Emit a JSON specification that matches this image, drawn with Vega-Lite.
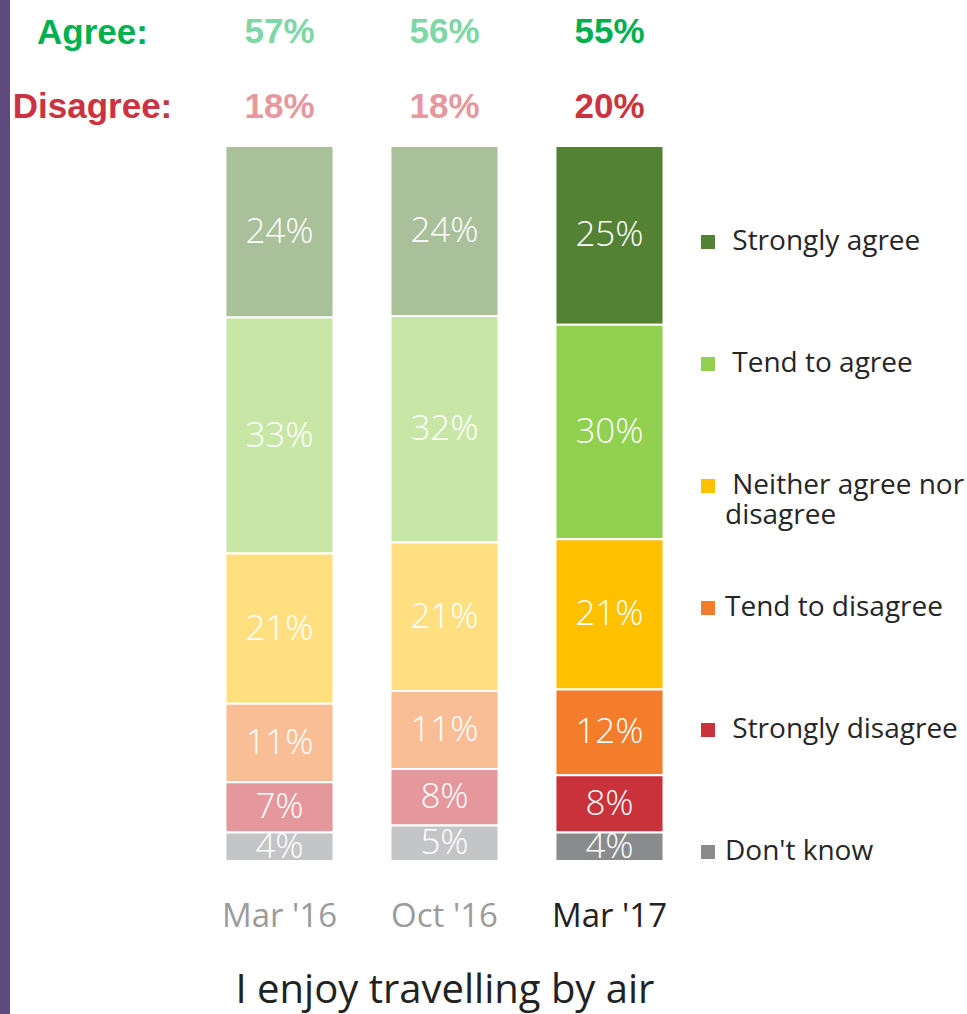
{
  "$schema": "https://vega.github.io/schema/vega-lite/v6.json",
  "padding": 0,
  "background": "white",
  "config": {"view": {"stroke": null}, "font": "Open Sans"},
  "datasets": {
    "survey": [
      {"period": "Mar '16", "answer": "Strongly agree", "code": 5, "share": 0.24},
      {"period": "Mar '16", "answer": "Tend to agree", "code": 4, "share": 0.33},
      {"period": "Mar '16", "answer": "Neither agree nor disagree", "code": 3, "share": 0.21},
      {"period": "Mar '16", "answer": "Tend to disagree", "code": 2, "share": 0.11},
      {"period": "Mar '16", "answer": "Strongly disagree", "code": 1, "share": 0.07},
      {"period": "Mar '16", "answer": "Don't know", "code": 0, "share": 0.04},
      {"period": "Oct '16", "answer": "Strongly agree", "code": 5, "share": 0.24},
      {"period": "Oct '16", "answer": "Tend to agree", "code": 4, "share": 0.32},
      {"period": "Oct '16", "answer": "Neither agree nor disagree", "code": 3, "share": 0.21},
      {"period": "Oct '16", "answer": "Tend to disagree", "code": 2, "share": 0.11},
      {"period": "Oct '16", "answer": "Strongly disagree", "code": 1, "share": 0.08},
      {"period": "Oct '16", "answer": "Don't know", "code": 0, "share": 0.05},
      {"period": "Mar '17", "answer": "Strongly agree", "code": 5, "share": 0.25},
      {"period": "Mar '17", "answer": "Tend to agree", "code": 4, "share": 0.30},
      {"period": "Mar '17", "answer": "Neither agree nor disagree", "code": 3, "share": 0.21},
      {"period": "Mar '17", "answer": "Tend to disagree", "code": 2, "share": 0.12},
      {"period": "Mar '17", "answer": "Strongly disagree", "code": 1, "share": 0.08},
      {"period": "Mar '17", "answer": "Don't know", "code": 0, "share": 0.04}
    ],
    "summary": [
      {"period": "Mar '16", "measure": "Agree", "share": 0.57},
      {"period": "Oct '16", "measure": "Agree", "share": 0.56},
      {"period": "Mar '17", "measure": "Agree", "share": 0.55},
      {"period": "Mar '16", "measure": "Disagree", "share": 0.18},
      {"period": "Oct '16", "measure": "Disagree", "share": 0.18},
      {"period": "Mar '17", "measure": "Disagree", "share": 0.20}
    ],
    "edge": [{"side": "left"}]
  },
  "spacing": 2,
  "hconcat": [
    {
      "width": 10,
      "height": 1014,
      "view": {"fill": "#5f4b7b", "stroke": null},
      "data": {"name": "edge"},
      "mark": {"type": "rect", "color": "#5f4b7b"},
      "encoding": {}
    },
    {
      "spacing": 6,
      "vconcat": [
        {
          "width": 495,
          "height": 139,
          "data": {"name": "summary"},
          "mark": {"type": "text", "font": "Liberation Sans", "fontSize": 35, "fontWeight": "bold"},
          "encoding": {
            "x": {"field": "period", "type": "nominal", "sort": ["Mar '16", "Oct '16", "Mar '17"], "scale": {"type": "point", "padding": 0.5}, "axis": null},
            "y": {
              "field": "measure", "type": "nominal", "sort": ["Agree", "Disagree"],
              "scale": {"type": "point", "padding": 0.4267},
              "axis": {
                "title": null, "domain": false, "ticks": false, "tickSize": 0,
                "labelExpr": "datum.label + ':'",
                "labelFont": "Liberation Sans", "labelFontSize": 35, "labelFontWeight": "bold",
                "labelAlign": "center", "labelPadding": 105,
                "labelColor": {"condition": {"test": "datum.value == 'Agree'", "value": "#00b050"}, "value": "#cc3340"}
              }
            },
            "text": {"field": "share", "type": "quantitative", "format": ".0%"},
            "color": {"condition": {"test": "datum.measure == 'Agree'", "value": "#00b050"}, "value": "#cc3340"},
            "opacity": {"condition": {"test": "indexof(datum.period, '17') >= 0", "value": 1}, "value": 0.5}
          }
        },
        {
          "width": 495,
          "height": 715,
          "data": {"name": "survey"},
          "encoding": {
            "x": {
              "field": "period", "type": "nominal", "sort": ["Mar '16", "Oct '16", "Mar '17"],
              "scale": {"type": "band", "paddingInner": 0.345, "paddingOuter": 0.1725},
              "axis": {
                "title": "I enjoy travelling by air", "titleFontSize": 40, "titleFontWeight": "normal", "titleColor": "#222222", "titleFont": "Open Sans", "titlePadding": 37,
                "domain": false, "ticks": false, "labelAngle": 0, "labelFontSize": 33, "labelFont": "Open Sans", "labelPadding": 39,
                "labelColor": {"condition": {"test": "indexof(datum.value, '17') >= 0", "value": "#222222"}, "value": "#9b9b9b"}
              }
            },
            "y": {"field": "share", "type": "quantitative", "stack": "normalize", "axis": null},
            "order": {"field": "code", "type": "quantitative", "sort": "ascending"}
          },
          "layer": [
            {
              "mark": {"type": "bar", "stroke": "white", "strokeWidth": 2},
              "encoding": {
                "color": {
                  "field": "answer", "type": "nominal",
                  "scale": {
                    "domain": ["Strongly agree", "Tend to agree", "Neither agree nor disagree", "Tend to disagree", "Strongly disagree", "Don't know"],
                    "range": ["#548235", "#92d050", "#ffc000", "#f47d2b", "#c9323a", "#898b8d"]
                  },
                  "legend": {
                    "title": null, "orient": "none", "legendX": 694, "legendY": 227, "padding": 0,
                    "direction": "vertical", "symbolType": "square", "symbolSize": 196, "symbolStrokeWidth": 0, "symbolOpacity": 1,
                    "labelFont": "Open Sans", "labelFontSize": 28, "labelColor": "#262626", "labelOffset": 3, "labelLimit": 400,
                    "rowPadding": 63, "clipHeight": 30,
                    "labelExpr": "datum.value == 'Neither agree nor disagree' ? ['\u200b\u00a0Neither agree nor', 'disagree'] : (datum.value == 'Tend to disagree' || indexof(datum.value, 'know') >= 0) ? [datum.label, '\u00a0'] : ['\u200b\u00a0' + datum.label, '\u00a0']"
                  }
                },
                "fillOpacity": {"condition": {"test": "indexof(datum.period, '17') >= 0", "value": 1}, "value": 0.5}
              }
            },
            {
              "mark": {"type": "text", "color": "white", "fontSize": 35, "fontWeight": 300, "font": "Open Sans", "clip": true},
              "encoding": {
                "y": {"field": "share", "type": "quantitative", "stack": "normalize", "bandPosition": 0.5},
                "text": {"field": "share", "type": "quantitative", "format": ".0%"}
              }
            }
          ]
        }
      ]
    }
  ]
}
